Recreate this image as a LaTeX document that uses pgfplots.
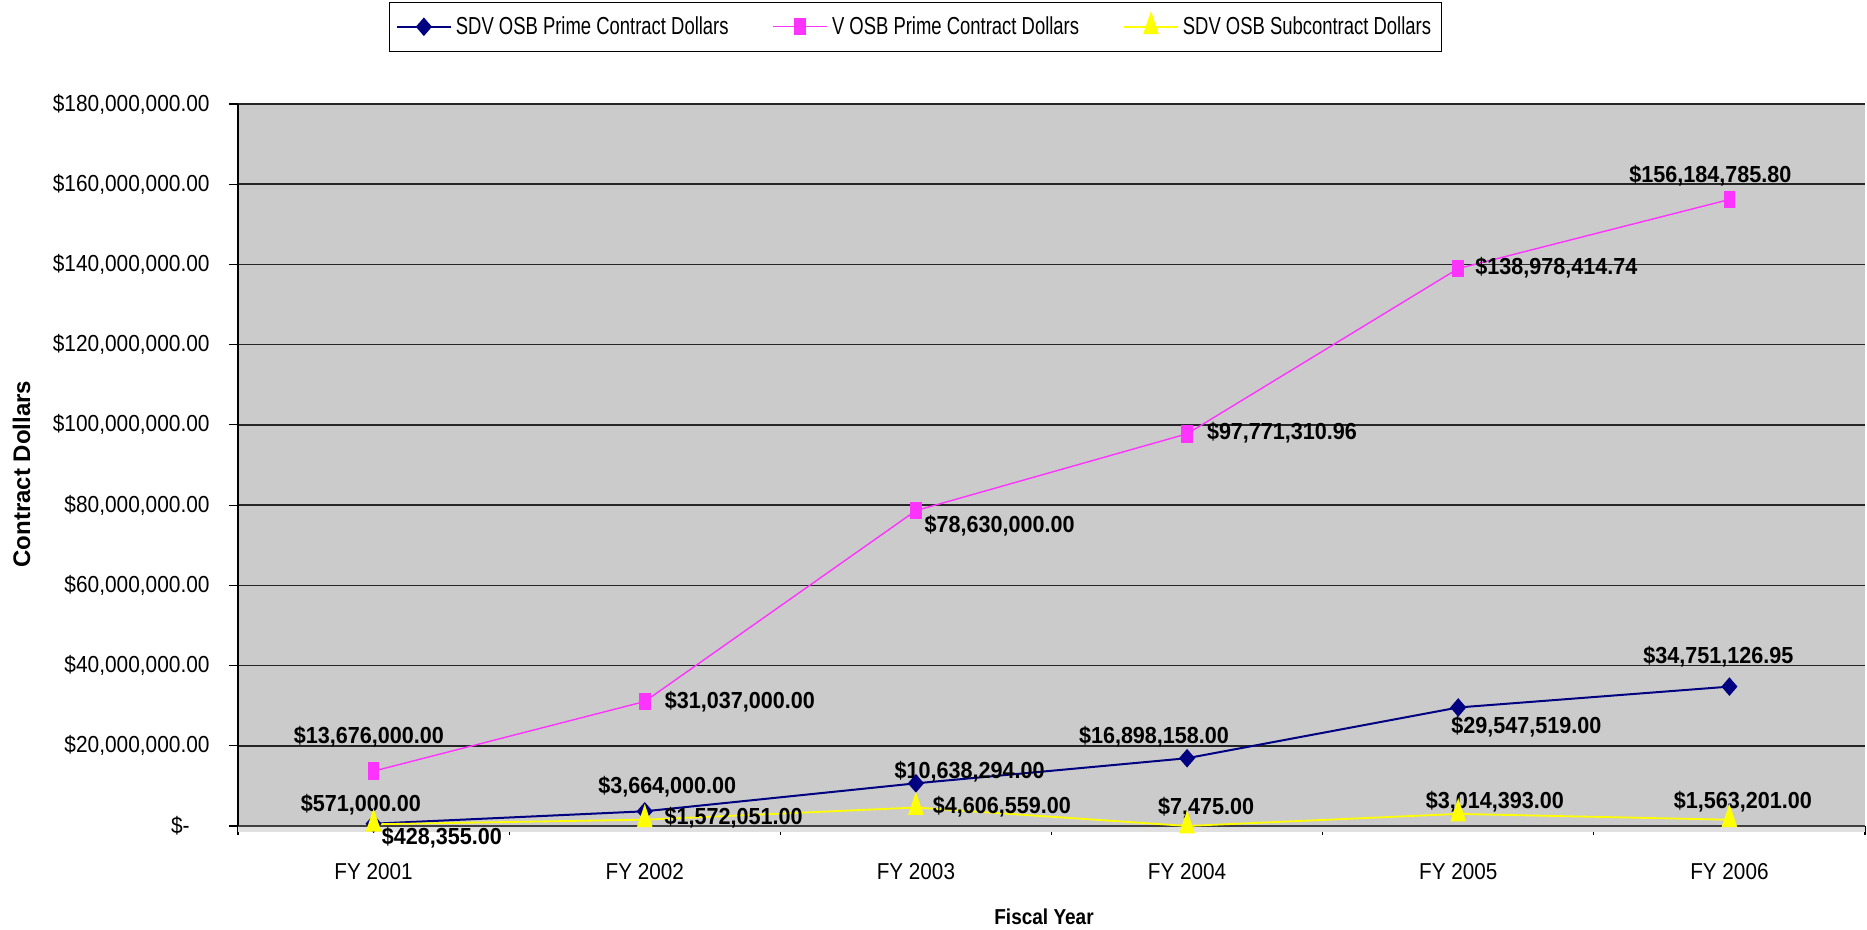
\documentclass[border=0pt]{standalone}
\usepackage{fontspec}
\setmainfont{Liberation Sans}
\newfontfamily\tickfont[FakeStretch=0.9]{Liberation Sans}
\newfontfamily\legfont[FakeStretch=0.75]{Liberation Sans}
\newfontfamily\lblfont[FakeStretch=0.93]{Liberation Sans}
\newfontfamily\xlabfont[FakeStretch=0.88]{Liberation Sans}
\usepackage{pgfplots}
\pgfplotsset{compat=1.18}
\definecolor{sdvnavy}{RGB}{0,0,128}
\definecolor{vosbmag}{RGB}{255,51,255}
\definecolor{subyel}{RGB}{255,255,0}
\definecolor{plotbg}{RGB}{203,203,203}
\tikzset{lbl/.style={font=\lblfont\bfseries\fontsize{11.6pt}{13pt}\selectfont, inner sep=0pt, anchor=center}}
\begin{document}
\begin{tikzpicture}
\begin{axis}[
  at={(0pt,0pt)}, anchor=south west,
  width=813.5pt, height=361pt, scale only axis,
  xmin=-0.5, xmax=5.5, ymin=0, ymax=180000000,
  scaled y ticks=false,
  clip=false,
  axis lines=left, axis line style={-},
  x axis line style={draw=black!75, line width=1pt},
  y axis line style={draw=black, line width=0.8pt},
  axis background/.style={fill=plotbg},
  xtick={-0.5,0.5,...,5.5},
  xticklabels={FY 2001,FY 2002,FY 2003,FY 2004,FY 2005,FY 2006},
  x tick label as interval,
  ytick={0,20000000,40000000,60000000,80000000,100000000,120000000,140000000,160000000,180000000},
  yticklabels={{\$-\kern10pt},{\$20,000,000.00},{\$40,000,000.00},{\$60,000,000.00},{\$80,000,000.00},{\$100,000,000.00},{\$120,000,000.00},{\$140,000,000.00},{\$160,000,000.00},{\$180,000,000.00}},
  ymajorgrids, grid style={black!85, line width=0.8pt},
  tick align=outside, major tick length=4.5pt,
  tick style={black, line width=0.6pt},
  yticklabel style={font=\tickfont\fontsize{11.6pt}{13pt}\selectfont, anchor=east, inner sep=0pt, xshift=-9.5pt},
  xticklabel style={font=\tickfont\fontsize{11.5pt}{13pt}\selectfont, anchor=base, inner sep=0pt, yshift=-22pt},
  ylabel={Contract Dollars},
  ylabel style={at={(axis description cs:-0.1331,0.4875)}, anchor=center, font=\bfseries\fontsize{12pt}{14pt}\selectfont},
  xlabel={Fiscal Year},
  xlabel style={at={(axis description cs:0.4954,-0.126)}, anchor=center, font=\xlabfont\bfseries\fontsize{10.8pt}{12pt}\selectfont},
  legend style={at={(0.4164,1.1413)}, anchor=north, legend columns=3, draw=black, fill=white,
    font=\legfont\fontsize{12.3pt}{13pt}\selectfont, inner xsep=3pt, inner ysep=5pt,
    /tikz/every even column/.append style={column sep=20pt}},
  legend cell align=left,
  legend image code/.code={\draw[mark repeat=2,mark phase=2,#1] plot coordinates {(0pt,0pt) (13.5pt,0pt) (27pt,0pt)};},
]
\fill[black!12] (axis cs:-0.5,0) ++(0pt,-0.6pt) rectangle ([yshift=-3pt]axis cs:5.5,0);

\addplot[color=sdvnavy, line width=1pt, mark=diamond*, mark size=3.9pt, mark options={solid, fill=sdvnavy, xscale=1.15}]
  coordinates {(0,571000) (1,3664000) (2,10638294) (3,16898158) (4,29547519) (5,34751126.95)};
\addlegendentry{SDV OSB Prime Contract Dollars}
\addplot[color=vosbmag, line width=0.7pt, mark=square*, mark size=4pt, mark options={solid, fill=vosbmag, xscale=0.65}]
  coordinates {(0,13676000) (1,31037000) (2,78630000) (3,97771310.96) (4,138978414.74) (5,156184785.80)};
\addlegendentry{V OSB Prime Contract Dollars}
\addplot[color=subyel, line width=0.9pt, mark=triangle*, mark size=3.8pt, mark options={solid, fill=subyel, yscale=1.7}]
  coordinates {(0,428355) (1,1572051) (2,4606559) (3,7475) (4,3014393) (5,1563201)};
\addlegendentry{SDV OSB Subcontract Dollars}

\node[lbl] at (axis cs:-0.017,22300000) {\$13,676,000.00};
\node[lbl] at (axis cs:1.351,30900000) {\$31,037,000.00};
\node[lbl] at (axis cs:2.309,74850000) {\$78,630,000.00};
\node[lbl] at (axis cs:3.350,98100000) {\$97,771,310.96};
\node[lbl] at (axis cs:4.362,139300000) {\$138,978,414.74};
\node[lbl] at (axis cs:4.930,162200000) {\$156,184,785.80};

\node[lbl] at (axis cs:-0.047,5350000) {\$571,000.00};
\node[lbl] at (axis cs:1.083,9800000) {\$3,664,000.00};
\node[lbl] at (axis cs:2.198,13540000) {\$10,638,294.00};
\node[lbl] at (axis cs:2.878,22300000) {\$16,898,158.00};
\node[lbl] at (axis cs:4.251,24650000) {\$29,547,519.00};
\node[lbl] at (axis cs:4.959,42200000) {\$34,751,126.95};

\node[lbl] at (axis cs:0.252,-2970000) {\$428,355.00};
\node[lbl] at (axis cs:1.328,2170000) {\$1,572,051.00};
\node[lbl] at (axis cs:2.317,4810000) {\$4,606,559.00};
\node[lbl] at (axis cs:3.070,4600000) {\$7,475.00};
\node[lbl] at (axis cs:4.135,6100000) {\$3,014,393.00};
\node[lbl] at (axis cs:5.050,6000000) {\$1,563,201.00};
\end{axis}
\pgfresetboundingbox
\useasboundingbox (-119pt,-52pt) rectangle (814.5pt,413pt);
\end{tikzpicture}
\end{document}
